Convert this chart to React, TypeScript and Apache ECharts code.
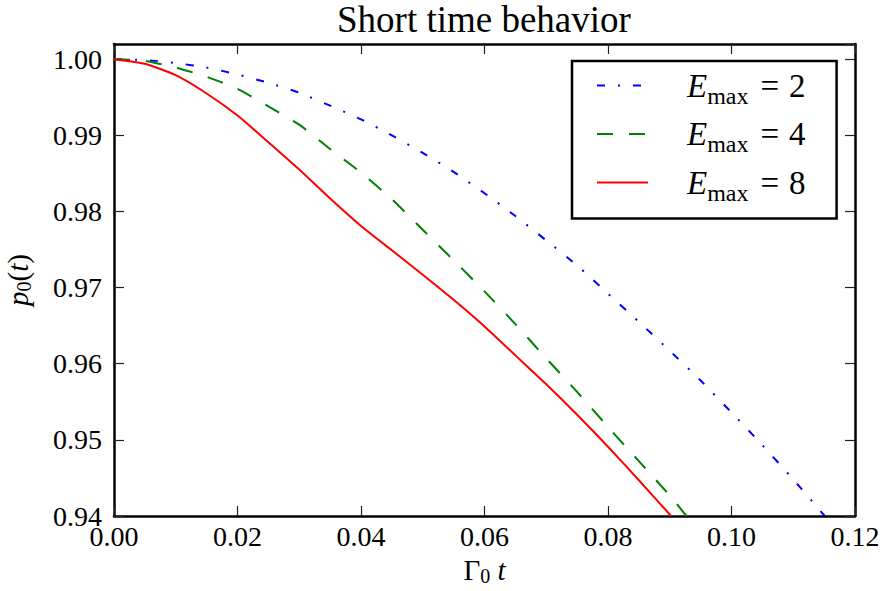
import React, { useEffect, useRef } from 'react';
import * as echarts from 'echarts';

// Gamma_0 t values and p_0(t) for each E_max
const tE2 = [0, 0.005, 0.01, 0.015, 0.02, 0.025, 0.03, 0.035, 0.04, 0.045, 0.05, 0.055, 0.06, 0.065, 0.07, 0.075, 0.08, 0.085, 0.09, 0.095, 0.1, 0.105, 0.11, 0.1151];
const pE2 = [1.0, 0.9999, 0.9995, 0.9989, 0.998, 0.9969, 0.9956, 0.9939, 0.9921, 0.99, 0.9877, 0.9852, 0.9824, 0.9794, 0.9762, 0.9729, 0.9692, 0.9655, 0.9617, 0.9578, 0.9536, 0.9493, 0.9448, 0.94];

const tE4 = [0, 0.005, 0.01, 0.015, 0.02, 0.025, 0.03, 0.035, 0.04, 0.045, 0.05, 0.055, 0.06, 0.065, 0.07, 0.075, 0.08, 0.085, 0.09, 0.0927];
const pE4 = [1.0, 0.9998, 0.9989, 0.9977, 0.9961, 0.9938, 0.9914, 0.9882, 0.9851, 0.9816, 0.9776, 0.9736, 0.9695, 0.9652, 0.9607, 0.9563, 0.9517, 0.9472, 0.9427, 0.94];

const tE8 = [0, 0.005, 0.01, 0.015, 0.02, 0.025, 0.03, 0.035, 0.04, 0.045, 0.05, 0.055, 0.06, 0.065, 0.07, 0.075, 0.08, 0.085, 0.09, 0.0902];
const pE8 = [1.0, 0.9994, 0.9979, 0.9955, 0.9926, 0.9891, 0.9855, 0.9817, 0.9781, 0.9749, 0.9717, 0.9684, 0.9649, 0.9611, 0.9573, 0.9533, 0.9491, 0.9447, 0.9402, 0.94];

const seriesNames = ['E_max = 2', 'E_max = 4', 'E_max = 8'];
const legendValues = ['2', '4', '8'];
const xTicks = { min: 0, max: 0.12, interval: 0.02 };
const yTicks = { min: 0.94, max: 1.002, interval: 0.01 };

const FONT = "'Liberation Serif', 'DejaVu Serif', serif";
const base = { fontFamily: FONT, fontStyle: 'normal', fontWeight: 'normal', color: '#000' };

function pairs(xs: number[], ys: number[]) {
  return xs.map((x, i) => [x, ys[i]]);
}

export default function App() {
  const ref = useRef<HTMLDivElement>(null);
  useEffect(() => {
    document.body.style.margin = '0';
    if (!ref.current) return;
    const chart = echarts.init(ref.current, null, { renderer: 'svg' });
    const frame = { show: true, onZero: false, lineStyle: { color: '#000', width: 2.5 } };
    const tick = { show: true, inside: true, length: 10, lineStyle: { color: '#222', width: 1.2 } };
    const fmt = (v: number) => {
      const k = v * 100;
      return Math.abs(k - Math.round(k)) < 1e-6 ? v.toFixed(2) : '';
    };
    const sub = { ...base, fontSize: 20, padding: [12, 0, 0, 0] };
    chart.setOption({
      animation: false,
      title: {
        text: 'Short time behavior',
        left: 337,
        top: 0,
        padding: [1, 0, 0, 0],
        textStyle: { ...base, fontSize: 37 },
      },
      grid: { left: 114, right: 27, top: 44, bottom: 75, containLabel: false, outerBoundsMode: 'none' },
      legend: {
        orient: 'vertical',
        left: 572,
        top: 61,
        padding: [8, 31, 14, 24],
        itemWidth: 51,
        itemHeight: 14,
        itemGap: 10,
        borderColor: '#000',
        borderWidth: 2.5,
        backgroundColor: '#fff',
        itemStyle: { opacity: 0 },
        data: seriesNames,
        formatter: (name: string) => {
          const i = seriesNames.indexOf(name);
          return '{g| }{e|E}{s|max}{q|=}{n|' + legendValues[i] + '}';
        },
        textStyle: {
          ...base,
          fontSize: 33,
          rich: {
            g: { ...base, width: 34, fontSize: 33 },
            e: { ...base, fontSize: 33, fontStyle: 'italic' },
            s: { ...base, fontSize: 24, padding: [20, 0, 0, 0] },
            q: { ...base, fontSize: 33, padding: [0, 10, 0, 12] },
            n: { ...base, fontSize: 33 },
          },
        },
      },
      xAxis: [
        {
          type: 'value', position: 'bottom', ...xTicks,
          axisLine: frame, axisTick: tick, splitLine: { show: false },
          axisLabel: { ...base, formatter: (v: number) => v.toFixed(2), fontSize: 28, margin: 6 },
          name: '{g|Γ}{s|0}{i| t}',
          nameLocation: 'middle',
          nameGap: 38,
          nameTextStyle: {
            ...base,
            rich: {
              g: { ...base, fontSize: 29 },
              s: sub,
              i: { ...base, fontSize: 29, fontStyle: 'italic' },
            },
          },
        },
        {
          type: 'value', position: 'top', ...xTicks,
          axisLine: frame, axisTick: tick, splitLine: { show: false }, axisLabel: { show: false },
        },
      ],
      yAxis: [
        {
          type: 'value', position: 'left', ...yTicks,
          axisLine: frame, axisTick: tick, splitLine: { show: false },
          axisLabel: { ...base, formatter: fmt, showMaxLabel: false, fontSize: 28, margin: 12 },
          name: '{i|p}{s|0}{n|(}{i|t}{n|)}',
          nameLocation: 'middle',
          nameRotate: 90,
          nameGap: 80,
          nameTextStyle: {
            ...base,
            rich: {
              i: { ...base, fontSize: 29, fontStyle: 'italic' },
              s: sub,
              n: { ...base, fontSize: 29 },
            },
          },
        },
        {
          type: 'value', position: 'right', ...yTicks,
          axisLine: frame, axisTick: tick, splitLine: { show: false }, axisLabel: { show: false },
        },
      ],
      series: [
        {
          name: seriesNames[0], type: 'line', data: pairs(tE2, pE2), symbol: 'none', showSymbol: false, smooth: 0.2,
          lineStyle: { color: '#0000ff', width: 2, type: [8, 13, 2, 13] }, itemStyle: { color: '#0000ff' },
        },
        {
          name: seriesNames[1], type: 'line', data: pairs(tE4, pE4), symbol: 'none', showSymbol: false, smooth: 0.2,
          lineStyle: { color: '#008000', width: 2, type: [16, 16] }, itemStyle: { color: '#008000' },
        },
        {
          name: seriesNames[2], type: 'line', data: pairs(tE8, pE8), symbol: 'none', showSymbol: false, smooth: 0.2,
          lineStyle: { color: '#ff0000', width: 2, type: 'solid' }, itemStyle: { color: '#ff0000' },
        },
      ],
    });
    return () => chart.dispose();
  }, []);
  return <div ref={ref} style={{ width: 882, height: 591 }} />;
}
